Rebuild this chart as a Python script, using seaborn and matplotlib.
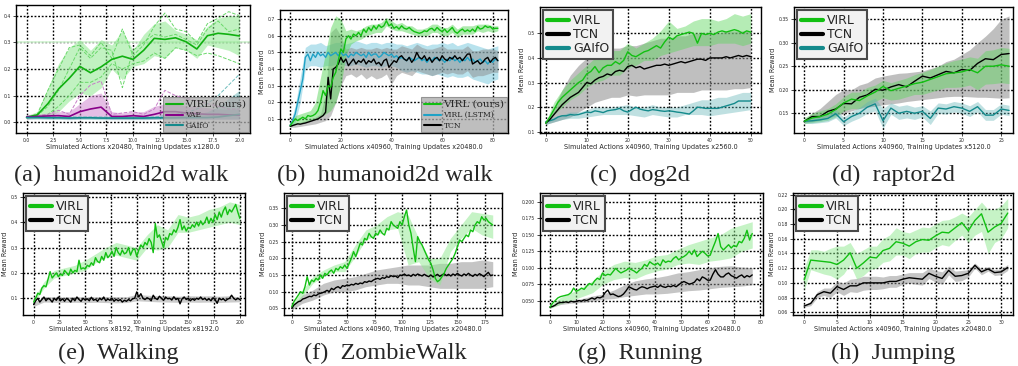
import numpy as np
import matplotlib
matplotlib.use("Agg")
import matplotlib.pyplot as plt
import seaborn as sns

# ---------------- data ----------------
# (a) humanoid2d walk
a_virl = [0.019, 0.028, 0.07, 0.125, 0.165, 0.21, 0.186, 0.208, 0.236, 0.248, 0.236, 0.27, 0.315, 0.311, 0.317, 0.302, 0.275, 0.325, 0.334, 0.33, 0.324]
a_virl_hi = [0.025, 0.04, 0.13, 0.22, 0.28, 0.31, 0.27, 0.31, 0.29, 0.345, 0.27, 0.33, 0.37, 0.38, 0.345, 0.33, 0.31, 0.36, 0.39, 0.40, 0.40]
a_virl_lo = [0.014, 0.015, 0.02, 0.04, 0.08, 0.11, 0.10, 0.13, 0.20, 0.16, 0.21, 0.22, 0.25, 0.24, 0.28, 0.27, 0.24, 0.29, 0.28, 0.27, 0.25]
a_virl_s1 = [0.02, 0.03, 0.12, 0.2, 0.28, 0.29, 0.25, 0.30, 0.24, 0.35, 0.25, 0.29, 0.36, 0.41, 0.35, 0.34, 0.30, 0.37, 0.39, 0.415, 0.40]
a_virl_s2 = [0.02, 0.025, 0.06, 0.12, 0.2, 0.28, 0.24, 0.28, 0.27, 0.13, 0.27, 0.3, 0.33, 0.32, 0.33, 0.31, 0.29, 0.35, 0.38, 0.34, 0.35]
a_virl_s3 = [0.017, 0.02, 0.03, 0.06, 0.1, 0.15, 0.15, 0.17, 0.22, 0.2, 0.22, 0.23, 0.26, 0.24, 0.28, 0.27, 0.25, 0.26, 0.25, 0.235, 0.22]
a_vae = [0.02, 0.022, 0.024, 0.025, 0.022, 0.04, 0.05, 0.057, 0.022, 0.022, 0.025, 0.022, 0.03, 0.04, 0.04, 0.035, 0.032, 0.03, 0.03, 0.028, 0.027]
a_vae_hi = [0.03, 0.03, 0.035, 0.04, 0.04, 0.07, 0.1, 0.11, 0.04, 0.035, 0.04, 0.04, 0.06, 0.07, 0.07, 0.06, 0.06, 0.055, 0.05, 0.05, 0.05]
a_vae_lo = [0.012, 0.015, 0.015, 0.015, 0.012, 0.015, 0.015, 0.015, 0.012, 0.012, 0.012, 0.012, 0.012, 0.015, 0.015, 0.012, 0.012, 0.012, 0.012, 0.012, 0.012]
a_vae_s1 = [0.02, 0.025, 0.03, 0.045, 0.03, 0.1, 0.14, 0.155, 0.03, 0.035, 0.04, 0.03, 0.05, 0.12, 0.1, 0.09, 0.08, 0.07, 0.06, 0.05, 0.05]
a_gaifo = [0.018, 0.018, 0.017, 0.017, 0.016, 0.017, 0.017, 0.016, 0.016, 0.016, 0.016, 0.016, 0.017, 0.017, 0.017, 0.018, 0.018, 0.018, 0.02, 0.025, 0.03]
a_gaifo_hi = [0.024, 0.024, 0.023, 0.023, 0.022, 0.023, 0.023, 0.022, 0.022, 0.022, 0.022, 0.022, 0.023, 0.024, 0.025, 0.027, 0.03, 0.04, 0.06, 0.09, 0.12]
a_gaifo_lo = [0.012, 0.012, 0.011, 0.011, 0.01, 0.011, 0.011, 0.01, 0.01, 0.01, 0.01, 0.01, 0.011, 0.011, 0.011, 0.012, 0.012, 0.012, 0.012, 0.012, 0.012]
a_gaifo_s1 = [0.02, 0.02, 0.02, 0.02, 0.02, 0.02, 0.02, 0.02, 0.02, 0.02, 0.02, 0.02, 0.02, 0.025, 0.03, 0.035, 0.05, 0.07, 0.1, 0.14, 0.18]

# (b) humanoid2d walk (LSTM comparison)
b_virl = [0.06, 0.08, 0.1, 0.09, 0.1, 0.11, 0.1, 0.12, 0.115, 0.12, 0.13, 0.15, 0.2, 0.27, 0.24, 0.3, 0.29, 0.35, 0.38, 0.45,
          0.52, 0.5, 0.58, 0.6, 0.58, 0.61, 0.6, 0.62, 0.6, 0.64, 0.62, 0.65, 0.63, 0.66, 0.64, 0.665, 0.65, 0.66, 0.69, 0.66,
          0.67, 0.645, 0.655, 0.64, 0.66, 0.645, 0.64, 0.65, 0.635, 0.625, 0.62, 0.615, 0.62, 0.63, 0.625, 0.64, 0.645, 0.63, 0.65, 0.635,
          0.625, 0.64, 0.62, 0.635, 0.65, 0.625, 0.615, 0.63, 0.64, 0.625, 0.635, 0.625, 0.64, 0.625, 0.655, 0.64, 0.645, 0.66, 0.65, 0.655,
          0.64, 0.645, 0.645]
b_virl_hi = [0.07, 0.12, 0.13, 0.14, 0.15, 0.2, 0.35, 0.5, 0.65, 0.72, 0.7, 0.63, 0.64, 0.63, 0.64, 0.66, 0.67, 0.67, 0.68, 0.71, 0.69,
             0.67, 0.68, 0.66, 0.66, 0.64, 0.64, 0.65, 0.67, 0.67, 0.65, 0.65, 0.67, 0.64, 0.66, 0.66, 0.66, 0.67, 0.67, 0.67, 0.66, 0.66]
b_virl_lo = [0.05, 0.07, 0.075, 0.08, 0.09, 0.1, 0.11, 0.13, 0.15, 0.2, 0.3, 0.48, 0.55, 0.57, 0.58, 0.6, 0.61, 0.62, 0.62, 0.66, 0.64,
             0.63, 0.63, 0.62, 0.61, 0.6, 0.6, 0.6, 0.62, 0.62, 0.6, 0.6, 0.62, 0.59, 0.61, 0.61, 0.61, 0.63, 0.62, 0.63, 0.62, 0.63]
b_lstm = [0.06, 0.09, 0.13, 0.2, 0.27, 0.34, 0.47, 0.49, 0.45, 0.49, 0.47, 0.5, 0.48, 0.49, 0.47, 0.5, 0.48, 0.49, 0.5, 0.48,
          0.5, 0.48, 0.49, 0.47, 0.49, 0.48, 0.5, 0.49, 0.48, 0.49, 0.47, 0.5, 0.48, 0.49, 0.49, 0.47, 0.48, 0.5, 0.49, 0.48,
          0.49, 0.47, 0.48, 0.46, 0.47, 0.46, 0.45, 0.47, 0.46, 0.45, 0.46, 0.47, 0.45, 0.46, 0.44, 0.46, 0.45, 0.47, 0.46, 0.45,
          0.46, 0.44, 0.46, 0.45, 0.47, 0.45, 0.46, 0.44, 0.46, 0.45, 0.47, 0.45, 0.46, 0.44, 0.45, 0.46, 0.44, 0.45, 0.43, 0.45,
          0.44, 0.46, 0.45]
b_lstm_hi = [0.07, 0.18, 0.35, 0.53, 0.55, 0.55, 0.56, 0.54, 0.55, 0.56, 0.56, 0.55, 0.56, 0.57, 0.56, 0.55, 0.56, 0.56, 0.55, 0.56, 0.56,
             0.55, 0.55, 0.54, 0.55, 0.56, 0.55, 0.54, 0.55, 0.55, 0.56, 0.55, 0.56, 0.54, 0.55, 0.56, 0.55, 0.54, 0.53, 0.52, 0.53, 0.54]
b_lstm_lo = [0.05, 0.08, 0.2, 0.4, 0.42, 0.42, 0.41, 0.42, 0.42, 0.43, 0.43, 0.42, 0.42, 0.43, 0.42, 0.41, 0.42, 0.42, 0.41, 0.42, 0.42,
             0.41, 0.39, 0.38, 0.39, 0.38, 0.37, 0.37, 0.36, 0.37, 0.36, 0.35, 0.36, 0.35, 0.35, 0.36, 0.34, 0.33, 0.32, 0.31, 0.33, 0.34]
b_tcn = [0.055, 0.06, 0.065, 0.07, 0.068, 0.072, 0.075, 0.08, 0.085, 0.09, 0.095, 0.1, 0.11, 0.12, 0.14, 0.35, 0.22, 0.4, 0.41, 0.43,
         0.47, 0.44, 0.46, 0.42, 0.44, 0.46, 0.43, 0.45, 0.44, 0.46, 0.43, 0.45, 0.44, 0.46, 0.43, 0.44, 0.42, 0.45, 0.46, 0.41,
         0.43, 0.45, 0.44, 0.47, 0.48, 0.46, 0.45, 0.47, 0.44, 0.46, 0.5, 0.47, 0.46, 0.48, 0.45, 0.47, 0.44, 0.46, 0.47, 0.45,
         0.48, 0.46, 0.45, 0.47, 0.46, 0.48, 0.46, 0.47, 0.45, 0.47, 0.49, 0.49, 0.43, 0.44, 0.45, 0.43, 0.44, 0.46, 0.47, 0.44,
         0.46, 0.47, 0.45]
b_tcn_hi = [0.06, 0.075, 0.08, 0.09, 0.1, 0.11, 0.13, 0.25, 0.62, 0.65, 0.6, 0.52, 0.53, 0.52, 0.53, 0.52, 0.52, 0.53, 0.52, 0.53, 0.52,
            0.52, 0.54, 0.53, 0.52, 0.55, 0.53, 0.52, 0.52, 0.53, 0.54, 0.52, 0.52, 0.52, 0.52, 0.54, 0.51, 0.51, 0.52, 0.52, 0.52, 0.51]
b_tcn_lo = [0.05, 0.05, 0.055, 0.06, 0.065, 0.07, 0.08, 0.09, 0.12, 0.2, 0.3, 0.36, 0.37, 0.35, 0.37, 0.34, 0.36, 0.34, 0.35, 0.37, 0.31,
            0.36, 0.38, 0.37, 0.36, 0.39, 0.38, 0.37, 0.36, 0.37, 0.38, 0.37, 0.38, 0.37, 0.37, 0.39, 0.35, 0.36, 0.36, 0.37, 0.38, 0.38]

# (c) dog2d
c_virl = [0.135, 0.16, 0.19, 0.22, 0.24, 0.255, 0.27, 0.285, 0.3, 0.31, 0.335, 0.345, 0.365, 0.34, 0.36, 0.37, 0.37, 0.385, 0.375, 0.39,
          0.425, 0.41, 0.405, 0.415, 0.425, 0.43, 0.44, 0.45, 0.44, 0.465, 0.485, 0.475, 0.49, 0.495, 0.5, 0.505, 0.5, 0.46, 0.5, 0.495,
          0.5, 0.495, 0.505, 0.51, 0.505, 0.51, 0.515, 0.51, 0.5, 0.51, 0.505]
c_virl_hi = [0.14, 0.22, 0.27, 0.31, 0.34, 0.37, 0.40, 0.41, 0.43, 0.43, 0.46, 0.44, 0.46, 0.48, 0.51, 0.55, 0.52, 0.53, 0.55, 0.56, 0.56, 0.55, 0.56, 0.58, 0.57, 0.58]
c_virl_lo = [0.13, 0.17, 0.2, 0.23, 0.25, 0.28, 0.3, 0.31, 0.33, 0.33, 0.36, 0.37, 0.39, 0.39, 0.41, 0.42, 0.43, 0.44, 0.45, 0.45, 0.45, 0.46, 0.46, 0.46, 0.45, 0.46]
c_tcn = [0.135, 0.15, 0.17, 0.19, 0.21, 0.225, 0.24, 0.25, 0.26, 0.28, 0.3, 0.295, 0.31, 0.32, 0.325, 0.335, 0.33, 0.345, 0.35, 0.345,
         0.365, 0.37, 0.36, 0.365, 0.355, 0.36, 0.365, 0.37, 0.37, 0.375, 0.37, 0.375, 0.38, 0.385, 0.38, 0.385, 0.39, 0.395, 0.395, 0.39,
         0.4, 0.4, 0.4, 0.4, 0.405, 0.4, 0.405, 0.41, 0.405, 0.41, 0.405]
c_tcn_hi = [0.14, 0.2, 0.27, 0.33, 0.37, 0.4, 0.42, 0.43, 0.44, 0.44, 0.45, 0.45, 0.46, 0.47, 0.48, 0.48, 0.49, 0.49, 0.5, 0.5, 0.5, 0.5, 0.51, 0.51, 0.51, 0.51]
c_tcn_lo = [0.13, 0.14, 0.15, 0.16, 0.18, 0.2, 0.22, 0.23, 0.24, 0.24, 0.25, 0.245, 0.25, 0.25, 0.25, 0.25, 0.26, 0.26, 0.26, 0.27, 0.27, 0.27, 0.27, 0.275, 0.275, 0.28]
c_gaifo = [0.14, 0.145, 0.15, 0.16, 0.165, 0.165, 0.17, 0.168, 0.17, 0.175, 0.18, 0.178, 0.185, 0.182, 0.178, 0.185, 0.188, 0.19, 0.195, 0.185,
           0.18, 0.19, 0.2, 0.192, 0.188, 0.185, 0.19, 0.188, 0.185, 0.183, 0.185, 0.183, 0.18, 0.178, 0.175, 0.172, 0.185, 0.2, 0.198, 0.195,
           0.195, 0.195, 0.195, 0.2, 0.205, 0.21, 0.215, 0.225, 0.225, 0.225, 0.225]
c_gaifo_hi = [0.15, 0.16, 0.17, 0.18, 0.18, 0.19, 0.2, 0.2, 0.2, 0.205, 0.21, 0.2, 0.2, 0.21, 0.2, 0.2, 0.2, 0.21, 0.22, 0.23, 0.23, 0.24, 0.24, 0.25, 0.26, 0.26]
c_gaifo_lo = [0.13, 0.14, 0.15, 0.155, 0.155, 0.16, 0.165, 0.17, 0.17, 0.17, 0.17, 0.165, 0.16, 0.17, 0.165, 0.16, 0.16, 0.17, 0.17, 0.17, 0.165, 0.17, 0.175, 0.18, 0.185, 0.19]

# (d) raptor2d
d_virl = [0.133, 0.14, 0.143, 0.148, 0.158, 0.172, 0.18, 0.177, 0.187, 0.195, 0.207, 0.198, 0.203, 0.208, 0.213, 0.216, 0.222, 0.228, 0.234, 0.236, 0.238, 0.243, 0.236, 0.25, 0.25, 0.253, 0.25]
d_virl_hi = [0.14, 0.15, 0.155, 0.16, 0.17, 0.185, 0.195, 0.195, 0.205, 0.21, 0.22, 0.215, 0.22, 0.225, 0.232, 0.237, 0.243, 0.25, 0.257, 0.262, 0.265, 0.27, 0.267, 0.283, 0.285, 0.29, 0.288]
d_virl_lo = [0.128, 0.13, 0.132, 0.135, 0.142, 0.155, 0.16, 0.16, 0.167, 0.175, 0.183, 0.178, 0.18, 0.185, 0.19, 0.19, 0.195, 0.2, 0.205, 0.205, 0.206, 0.21, 0.2, 0.212, 0.213, 0.215, 0.213]
d_tcn = [0.133, 0.143, 0.143, 0.154, 0.159, 0.171, 0.17, 0.184, 0.189, 0.201, 0.199, 0.206, 0.211, 0.206, 0.218, 0.229, 0.225, 0.232, 0.239, 0.236, 0.243, 0.241, 0.256, 0.266, 0.264, 0.275, 0.277]
d_tcn_hi = [0.136, 0.15, 0.16, 0.175, 0.19, 0.2, 0.2, 0.21, 0.215, 0.225, 0.229, 0.232, 0.235, 0.236, 0.238, 0.24, 0.245, 0.25, 0.26, 0.265, 0.275, 0.285, 0.3, 0.314, 0.33, 0.35, 0.357]
d_tcn_lo = [0.13, 0.132, 0.135, 0.14, 0.145, 0.15, 0.155, 0.16, 0.163, 0.165, 0.168, 0.17, 0.172, 0.175, 0.177, 0.179, 0.181, 0.183, 0.185, 0.186, 0.186, 0.185, 0.184, 0.184, 0.183, 0.182, 0.183]
d_gaifo = [0.133, 0.134, 0.136, 0.139, 0.149, 0.132, 0.143, 0.15, 0.163, 0.17, 0.134, 0.161, 0.15, 0.154, 0.15, 0.154, 0.139, 0.161, 0.159, 0.164, 0.161, 0.154, 0.164, 0.146, 0.146, 0.159, 0.156]
d_gaifo_hi = [0.137, 0.14, 0.143, 0.148, 0.158, 0.142, 0.153, 0.162, 0.175, 0.182, 0.16, 0.172, 0.165, 0.168, 0.163, 0.166, 0.155, 0.172, 0.17, 0.175, 0.172, 0.166, 0.175, 0.158, 0.158, 0.17, 0.167]
d_gaifo_lo = [0.129, 0.128, 0.13, 0.132, 0.14, 0.124, 0.133, 0.14, 0.15, 0.155, 0.118, 0.148, 0.137, 0.14, 0.137, 0.142, 0.126, 0.15, 0.148, 0.153, 0.15, 0.143, 0.153, 0.135, 0.135, 0.148, 0.145]

# (e) Walking (sampled every 2 updates, 0..200)
e_virl = [0.085, 0.1, 0.12, 0.115, 0.14, 0.15, 0.145, 0.175, 0.205, 0.18, 0.19, 0.2, 0.185, 0.195, 0.19, 0.21, 0.2, 0.19, 0.215, 0.2,
          0.21, 0.205, 0.25, 0.215, 0.22, 0.215, 0.23, 0.225, 0.24, 0.23, 0.26, 0.245, 0.24, 0.265, 0.25, 0.28, 0.26, 0.27, 0.285, 0.265,
          0.3, 0.28, 0.27, 0.29, 0.275, 0.28, 0.3, 0.27, 0.29, 0.295, 0.265, 0.29, 0.31, 0.3, 0.32, 0.31, 0.335, 0.32, 0.28, 0.395,
          0.34, 0.35, 0.325, 0.3, 0.34, 0.33, 0.355, 0.35, 0.37, 0.36, 0.38, 0.41, 0.37, 0.385, 0.365, 0.38, 0.375, 0.39, 0.38, 0.4,
          0.385, 0.405, 0.39, 0.4, 0.42, 0.395, 0.415, 0.4, 0.43, 0.41, 0.44, 0.42, 0.445, 0.46, 0.43, 0.45, 0.44, 0.455, 0.47, 0.44,
          0.415]
e_virl_hi = [0.1, 0.165, 0.21, 0.22, 0.23, 0.25, 0.275, 0.3, 0.32, 0.31, 0.3, 0.35, 0.39, 0.37, 0.43, 0.42, 0.43, 0.45, 0.46, 0.48, 0.47]
e_virl_lo = [0.08, 0.14, 0.18, 0.19, 0.2, 0.21, 0.24, 0.26, 0.27, 0.26, 0.25, 0.3, 0.29, 0.3, 0.36, 0.36, 0.37, 0.38, 0.39, 0.4, 0.39]
e_tcn = [0.075, 0.09, 0.1, 0.085, 0.095, 0.105, 0.09, 0.1, 0.095, 0.085, 0.1, 0.092, 0.105, 0.09, 0.098, 0.088, 0.1, 0.094, 0.085, 0.1,
         0.09, 0.105, 0.095, 0.088, 0.1, 0.093, 0.098, 0.09, 0.104, 0.092, 0.096, 0.088, 0.1, 0.094, 0.105, 0.09, 0.097, 0.092, 0.1, 0.088,
         0.096, 0.09, 0.095, 0.085, 0.092, 0.088, 0.095, 0.09, 0.098, 0.1, 0.125, 0.105, 0.118, 0.1, 0.095, 0.102, 0.098, 0.09, 0.112, 0.1,
         0.095, 0.108, 0.1, 0.092, 0.105, 0.098, 0.1, 0.093, 0.106, 0.095, 0.1, 0.078, 0.098, 0.105, 0.095, 0.1, 0.09, 0.098, 0.092, 0.1,
         0.096, 0.105, 0.095, 0.1, 0.092, 0.098, 0.09, 0.102, 0.095, 0.08, 0.1, 0.094, 0.098, 0.09, 0.096, 0.1, 0.112, 0.1, 0.094, 0.1,
         0.095]
e_tcn_hi = [0.085, 0.105, 0.106, 0.105, 0.106, 0.105, 0.106, 0.107, 0.106, 0.106, 0.115, 0.112, 0.11, 0.11, 0.108, 0.11, 0.109, 0.11, 0.108, 0.11, 0.105]
e_tcn_lo = [0.068, 0.085, 0.084, 0.083, 0.084, 0.083, 0.084, 0.083, 0.082, 0.083, 0.09, 0.088, 0.086, 0.085, 0.084, 0.085, 0.084, 0.085, 0.083, 0.085, 0.086]

# (f) ZombieWalk (every 2 updates, 0..182)
f_virl = [0.055, 0.07, 0.08, 0.09, 0.1, 0.095, 0.115, 0.145, 0.12, 0.135, 0.13, 0.14, 0.135, 0.15, 0.14, 0.155, 0.15, 0.16, 0.165, 0.155,
          0.17, 0.165, 0.175, 0.17, 0.18, 0.17, 0.185, 0.2, 0.22, 0.205, 0.225, 0.245, 0.24, 0.26, 0.255, 0.275, 0.265, 0.26, 0.275, 0.27,
          0.285, 0.275, 0.27, 0.29, 0.285, 0.31, 0.3, 0.295, 0.29, 0.31, 0.3, 0.325, 0.345, 0.3, 0.275, 0.23, 0.19, 0.265, 0.25, 0.24,
          0.225, 0.21, 0.195, 0.185, 0.165, 0.14, 0.13, 0.135, 0.145, 0.155, 0.17, 0.18, 0.19, 0.2, 0.215, 0.235, 0.255, 0.25, 0.26, 0.27,
          0.265, 0.285, 0.28, 0.3, 0.31, 0.305, 0.325, 0.315, 0.32, 0.31, 0.305, 0.3]
f_virl_hi = [0.06, 0.105, 0.145, 0.165, 0.18, 0.19, 0.24, 0.285, 0.3, 0.325, 0.34, 0.33, 0.26, 0.2, 0.2, 0.26, 0.3, 0.34, 0.335, 0.33]
f_virl_lo = [0.05, 0.085, 0.125, 0.145, 0.16, 0.16, 0.205, 0.255, 0.27, 0.285, 0.29, 0.18, 0.19, 0.14, 0.12, 0.22, 0.26, 0.29, 0.27, 0.26]
f_tcn = [0.05, 0.06, 0.065, 0.07, 0.072, 0.078, 0.08, 0.083, 0.086, 0.085, 0.09, 0.088, 0.093, 0.095, 0.097, 0.1, 0.104, 0.1, 0.11, 0.106,
         0.112, 0.115, 0.11, 0.118, 0.116, 0.12, 0.118, 0.122, 0.12, 0.125, 0.122, 0.126, 0.124, 0.13, 0.128, 0.132, 0.13, 0.135, 0.138, 0.14,
         0.137, 0.142, 0.14, 0.145, 0.143, 0.148, 0.145, 0.147, 0.142, 0.15, 0.148, 0.153, 0.148, 0.15, 0.146, 0.152, 0.148, 0.153, 0.15, 0.147,
         0.152, 0.148, 0.145, 0.15, 0.144, 0.148, 0.152, 0.146, 0.15, 0.154, 0.148, 0.152, 0.147, 0.153, 0.149, 0.155, 0.15, 0.147, 0.153, 0.149,
         0.155, 0.15, 0.146, 0.152, 0.148, 0.154, 0.15, 0.145, 0.152, 0.158, 0.148, 0.15]
f_tcn_hi = [0.055, 0.09, 0.105, 0.125, 0.135, 0.14, 0.145, 0.155, 0.165, 0.17, 0.175, 0.18, 0.18, 0.18, 0.185, 0.185, 0.19, 0.19, 0.195, 0.19]
f_tcn_lo = [0.045, 0.065, 0.075, 0.09, 0.1, 0.1, 0.105, 0.115, 0.12, 0.125, 0.125, 0.12, 0.12, 0.115, 0.11, 0.11, 0.11, 0.11, 0.11, 0.115]

# (g) Running
g_virl = [0.04, 0.046, 0.05, 0.054, 0.056, 0.057, 0.058, 0.059, 0.062, 0.069, 0.064, 0.066, 0.069, 0.067, 0.072, 0.076, 0.074, 0.08, 0.084, 0.082,
          0.092, 0.088, 0.09, 0.089, 0.094, 0.099, 0.095, 0.092, 0.094, 0.096, 0.099, 0.097, 0.095, 0.092, 0.096, 0.099, 0.105, 0.102, 0.109, 0.106,
          0.104, 0.107, 0.103, 0.112, 0.108, 0.11, 0.109, 0.114, 0.117, 0.112, 0.115, 0.117, 0.12, 0.125, 0.12, 0.127, 0.117, 0.121, 0.125, 0.122,
          0.118, 0.119, 0.13, 0.14, 0.152, 0.132, 0.127, 0.131, 0.135, 0.13, 0.134, 0.132, 0.14, 0.138, 0.145, 0.157, 0.142, 0.152]
g_virl_hi = [0.042, 0.055, 0.062, 0.07, 0.08, 0.095, 0.105, 0.11, 0.108, 0.112, 0.118, 0.12, 0.128, 0.135, 0.14, 0.145, 0.15, 0.16, 0.165, 0.17]
g_virl_lo = [0.038, 0.045, 0.05, 0.056, 0.062, 0.075, 0.082, 0.085, 0.083, 0.09, 0.095, 0.098, 0.105, 0.107, 0.105, 0.11, 0.112, 0.115, 0.125, 0.13]
g_tcn = [0.04, 0.041, 0.043, 0.046, 0.047, 0.047, 0.048, 0.047, 0.049, 0.048, 0.0485, 0.05, 0.049, 0.051, 0.05, 0.052, 0.054, 0.052, 0.055, 0.054,
         0.056, 0.062, 0.066, 0.059, 0.06, 0.058, 0.056, 0.057, 0.06, 0.065, 0.071, 0.069, 0.067, 0.066, 0.069, 0.071, 0.07, 0.068, 0.07, 0.071,
         0.072, 0.07, 0.073, 0.071, 0.07, 0.072, 0.071, 0.073, 0.071, 0.074, 0.077, 0.079, 0.077, 0.075, 0.076, 0.078, 0.083, 0.08, 0.086, 0.084,
         0.081, 0.081, 0.09, 0.097, 0.09, 0.086, 0.086, 0.09, 0.092, 0.088, 0.086, 0.084, 0.087, 0.089, 0.085, 0.088, 0.086, 0.089]
g_tcn_hi = [0.041, 0.048, 0.05, 0.053, 0.057, 0.06, 0.066, 0.074, 0.08, 0.083, 0.085, 0.088, 0.092, 0.094, 0.097, 0.1, 0.102, 0.103, 0.101, 0.1]
g_tcn_lo = [0.039, 0.044, 0.046, 0.047, 0.049, 0.052, 0.053, 0.056, 0.058, 0.06, 0.06, 0.061, 0.063, 0.065, 0.066, 0.068, 0.07, 0.071, 0.072, 0.074]

# (h) Jumping
h_virl = [0.104, 0.131, 0.13, 0.129, 0.128, 0.125, 0.131, 0.141, 0.12, 0.127, 0.135, 0.134, 0.144, 0.147, 0.156, 0.154, 0.15, 0.156, 0.159, 0.158,
          0.164, 0.169, 0.168, 0.175, 0.182, 0.171, 0.185, 0.194, 0.169, 0.176, 0.181, 0.195]
h_virl_hi = [0.12, 0.145, 0.145, 0.143, 0.147, 0.15, 0.15, 0.155, 0.14, 0.145, 0.15, 0.15, 0.16, 0.165, 0.175, 0.17, 0.168, 0.172, 0.176, 0.175,
             0.18, 0.185, 0.186, 0.19, 0.195, 0.19, 0.2, 0.21, 0.2, 0.2, 0.205, 0.215]
h_virl_lo = [0.09, 0.118, 0.115, 0.112, 0.11, 0.105, 0.112, 0.125, 0.105, 0.11, 0.118, 0.12, 0.128, 0.13, 0.138, 0.138, 0.133, 0.14, 0.142, 0.142,
             0.148, 0.152, 0.15, 0.158, 0.165, 0.155, 0.165, 0.17, 0.14, 0.155, 0.16, 0.175]
h_tcn = [0.0686, 0.072, 0.084, 0.088, 0.086, 0.095, 0.091, 0.096, 0.096, 0.1, 0.1, 0.1, 0.1, 0.102, 0.102, 0.105, 0.107, 0.106, 0.105, 0.113,
         0.109, 0.106, 0.117, 0.109, 0.11, 0.113, 0.124, 0.115, 0.119, 0.114, 0.115, 0.121]
h_tcn_hi = [0.07, 0.075, 0.088, 0.093, 0.093, 0.102, 0.1, 0.105, 0.106, 0.109, 0.109, 0.109, 0.108, 0.11, 0.11, 0.112, 0.114, 0.114, 0.114, 0.12,
            0.117, 0.115, 0.123, 0.116, 0.117, 0.118, 0.127, 0.119, 0.122, 0.118, 0.119, 0.125]
h_tcn_lo = [0.067, 0.069, 0.08, 0.083, 0.08, 0.088, 0.083, 0.088, 0.087, 0.09, 0.091, 0.091, 0.092, 0.094, 0.094, 0.098, 0.1, 0.098, 0.097, 0.106,
            0.101, 0.098, 0.111, 0.102, 0.103, 0.108, 0.12, 0.111, 0.116, 0.11, 0.111, 0.117]

captions = ["(a)  humanoid2d walk", "(b)  humanoid2d walk", "(c)  dog2d", "(d)  raptor2d",
            "(e)  Walking", "(f)  ZombieWalk", "(g)  Running", "(h)  Jumping"]
xlabels = ["Simulated Actions x20480, Training Updates x1280.0",
           "Simulated Actions x40960, Training Updates x20480.0",
           "Simulated Actions x40960, Training Updates x2560.0",
           "Simulated Actions x40960, Training Updates x5120.0",
           "Simulated Actions x8192, Training Updates x8192.0",
           "Simulated Actions x40960, Training Updates x20480.0",
           "Simulated Actions x40960, Training Updates x20480.0",
           "Simulated Actions x40960, Training Updates x20480.0"]

# ---------------- style ----------------
GREEN = "#12c012"
GREEN_BAND = "#5cd65c"
GREY_BAND = "#8c8c8c"
TEAL = "#148a8c"
TEAL_BAND = "#5fb3b5"
LSTM = "#1fa2c6"
LSTM_BAND = "#72c6dc"
PURPLE = "#880088"
PURPLE_BAND = "#d08ad0"

sns.set_style("white")
plt.rcParams["font.family"] = ["DejaVu Sans"]

fig = plt.figure(figsize=(10.18, 3.66), dpi=100)


def add_ax(l, t, r, b):
    return fig.add_axes([l / 1018, 1 - b / 366, (r - l) / 1018, (b - t) / 366])


def line(ax, x, y, color, lw=1.0, ls="-", z=3):
    sns.lineplot(x=np.asarray(x, float), y=np.asarray(y, float), ax=ax, color=color,
                 linewidth=lw, linestyle=ls, zorder=z, estimator=None, sort=False)
    return ax.lines[-1]


def band(ax, xmax, lo, hi, color, alpha, z=1):
    x = np.linspace(0, xmax, len(lo))
    ax.fill_between(x, lo, hi, color=color, alpha=alpha, lw=0, zorder=z)


def style(ax, xlim, ylim, xt, xtl, yt, ytl, xlabel, ylabel=True):
    ax.set_xlim(xlim)
    ax.set_ylim(ylim)
    ax.set_xticks(xt)
    ax.set_xticklabels(xtl, fontsize=3.3)
    ax.set_yticks(yt)
    ax.set_yticklabels(ytl, fontsize=3.3)
    ax.tick_params(bottom=True, left=True, length=2, width=0.6, pad=1.5, direction="out")
    ax.grid(True, color="black", linestyle=(0, (1.3, 1.3)), linewidth=1.0)
    ax.set_axisbelow(True)
    for s in ax.spines.values():
        s.set_color("black")
        s.set_linewidth(1.0)
    ax.set_xlabel(xlabel, fontsize=4.7, labelpad=1)
    if ylabel:
        ax.set_ylabel("Mean Reward", fontsize=4.7, labelpad=2)
    else:
        ax.set_ylabel("")


def box_legend(ax, handles, labels):
    leg = ax.legend(handles, labels, loc="upper left", fontsize=9, handlelength=1.8,
                    handletextpad=0.3, labelspacing=0.1, borderpad=0.3, borderaxespad=0.25,
                    frameon=True, fancybox=False, edgecolor="#4a4a4a", facecolor="#f2f2f2", framealpha=1)
    leg.get_frame().set_linewidth(1.5)
    for lh in leg.get_lines():
        lh.set_linewidth(3)
    leg.set_zorder(10)


def grey_legend(ax, handles, labels):
    leg = ax.legend(handles, labels, loc="lower right", handlelength=2.2,
                    handletextpad=0.4, labelspacing=0.3, borderpad=0.35, borderaxespad=0.1,
                    frameon=True, fancybox=False, edgecolor="#7a7a7a", facecolor="#a9a9a9",
                    framealpha=0.75, prop={"family": "DejaVu Serif", "size": 5.5})
    leg.get_frame().set_linewidth(0.8)
    leg.get_texts()[0].set_fontsize(7.5)
    for lh in leg.get_lines():
        lh.set_linewidth(1.5)
    leg.set_zorder(10)


# ---- (a)
ax = add_ax(16, 5, 250, 133)
xa = np.arange(len(a_virl))
ax.axhline(0.3, color="#d3f5d3", lw=1.2, zorder=0.8)
band(ax, xa[-1], a_virl_lo, a_virl_hi, "#8ee88e", 0.55)
band(ax, xa[-1], a_vae_lo, a_vae_hi, PURPLE_BAND, 0.55)
band(ax, xa[-1], a_gaifo_lo, a_gaifo_hi, TEAL_BAND, 0.45)
for s in (a_virl_s1, a_virl_s2, a_virl_s3):
    line(ax, xa, s, "#6ad86a", lw=0.7, ls="--", z=2)
line(ax, xa, a_vae_s1, "#c77cc7", lw=0.7, ls="--", z=2)
line(ax, xa, a_gaifo_s1, "#6cbcbc", lw=0.7, ls="--", z=2)
h1 = line(ax, xa, a_virl, "#10b010", lw=1.2)
h2 = line(ax, xa, a_vae, PURPLE, lw=1.2)
h3 = line(ax, xa, a_gaifo, TEAL, lw=1.2)
style(ax, (-1, 21), (-0.04, 0.44), np.arange(0, 20.1, 2.5),
      ["0.0", "2.5", "5.0", "7.5", "10.0", "12.5", "15.0", "17.5", "20.0"],
      [0.0, 0.1, 0.2, 0.3, 0.4], ["0.0", "0.1", "0.2", "0.3", "0.4"], xlabels[0], ylabel=False)
grey_legend(ax, [h1, h2, h3], ["VIRL (ours)", "VAE", "GAIfO"])

# ---- (b)
ax = add_ax(280, 10, 508, 133)
xb = np.arange(len(b_virl))
band(ax, 82, b_lstm_lo, b_lstm_hi, LSTM_BAND, 0.5)
band(ax, 82, b_tcn_lo, b_tcn_hi, GREY_BAND, 0.5)
band(ax, 82, b_virl_lo, b_virl_hi, GREEN_BAND, 0.5)
h2 = line(ax, np.arange(len(b_lstm)), b_lstm, LSTM)
h3 = line(ax, np.arange(len(b_tcn)), b_tcn, "black")
h1 = line(ax, xb, b_virl, GREEN)
style(ax, (-4, 86), (0.015, 0.755), [0, 20, 40, 60, 80], ["0", "20", "40", "60", "80"],
      [0.1, 0.2, 0.3, 0.4, 0.5, 0.6, 0.7], ["0.1", "0.2", "0.3", "0.4", "0.5", "0.6", "0.7"], xlabels[1])
grey_legend(ax, [h1, h2, h3], ["VIRL (ours)", "VIRL (LSTM)", "TCN"])

# ---- (c)
ax = add_ax(540, 7, 761, 133)
band(ax, 50, c_tcn_lo, c_tcn_hi, GREY_BAND, 0.55)
band(ax, 50, c_virl_lo, c_virl_hi, GREEN_BAND, 0.45)
band(ax, 50, c_gaifo_lo, c_gaifo_hi, TEAL_BAND, 0.4)
h3 = line(ax, np.arange(len(c_gaifo)), c_gaifo, TEAL)
h2 = line(ax, np.arange(len(c_tcn)), c_tcn, "black")
h1 = line(ax, np.arange(len(c_virl)), c_virl, GREEN)
style(ax, (-1.4, 52.5), (0.095, 0.607), [0, 10, 20, 30, 40, 50], ["0", "10", "20", "30", "40", "50"],
      [0.1, 0.2, 0.3, 0.4, 0.5], ["0.1", "0.2", "0.3", "0.4", "0.5"], xlabels[2])
box_legend(ax, [h1, h2, h3], ["VIRL", "TCN", "GAIfO"])

# ---- (d)
ax = add_ax(794, 7, 1013, 133)
band(ax, 26, d_tcn_lo, d_tcn_hi, GREY_BAND, 0.55)
band(ax, 26, d_virl_lo, d_virl_hi, GREEN_BAND, 0.45)
band(ax, 26, d_gaifo_lo, d_gaifo_hi, TEAL_BAND, 0.4)
h3 = line(ax, np.arange(len(d_gaifo)), d_gaifo, TEAL)
h2 = line(ax, np.arange(len(d_tcn)), d_tcn, "black")
h1 = line(ax, np.arange(len(d_virl)), d_virl, GREEN)
style(ax, (-1.3, 26.5), (0.108, 0.376), [0, 5, 10, 15, 20, 25], ["0", "5", "10", "15", "20", "25"],
      [0.15, 0.2, 0.25, 0.3, 0.35], ["0.15", "0.20", "0.25", "0.30", "0.35"], xlabels[3])
box_legend(ax, [h1, h2, h3], ["VIRL", "TCN", "GAIfO"])

# ---- (e)
ax = add_ax(23, 193, 245, 315)
band(ax, 200, e_tcn_lo, e_tcn_hi, GREY_BAND, 0.45)
band(ax, 200, e_virl_lo, e_virl_hi, "#8ee88e", 0.5)
h2 = line(ax, np.linspace(0, 200, len(e_tcn)), e_tcn, "black")
h1 = line(ax, np.linspace(0, 200, len(e_virl)), e_virl, GREEN)
style(ax, (-10.3, 205), (0.034, 0.515), np.arange(0, 201, 25), [str(v) for v in range(0, 201, 25)],
      [0.1, 0.2, 0.3, 0.4, 0.5], ["0.1", "0.2", "0.3", "0.4", "0.5"], xlabels[4])
box_legend(ax, [h1, h2], ["VIRL", "TCN"])

# ---- (f)
ax = add_ax(284, 193, 502, 315)
band(ax, 182, f_tcn_lo, f_tcn_hi, GREY_BAND, 0.5)
band(ax, 182, f_virl_lo, f_virl_hi, "#8ee88e", 0.5)
h2 = line(ax, np.linspace(0, 182, len(f_tcn)), f_tcn, "black")
h1 = line(ax, np.linspace(0, 182, len(f_virl)), f_virl, GREEN)
style(ax, (-7, 190.4), (0.03, 0.396), np.arange(0, 176, 25), [str(v) for v in range(0, 176, 25)],
      [0.05, 0.1, 0.15, 0.2, 0.25, 0.3, 0.35], ["0.05", "0.10", "0.15", "0.20", "0.25", "0.30", "0.35"], xlabels[5])
box_legend(ax, [h1, h2], ["VIRL", "TCN"])

# ---- (g)
ax = add_ax(540, 193, 763, 315)
band(ax, 77, g_tcn_lo, g_tcn_hi, GREY_BAND, 0.5)
band(ax, 77, g_virl_lo, g_virl_hi, "#8ee88e", 0.5)
h2 = line(ax, np.arange(len(g_tcn)), g_tcn, "black")
h1 = line(ax, np.arange(len(g_virl)), g_virl, GREEN)
style(ax, (-3.8, 81.1), (0.028, 0.2137), np.arange(0, 81, 10), [str(v) for v in range(0, 81, 10)],
      [0.05, 0.075, 0.1, 0.125, 0.15, 0.175, 0.2],
      ["0.050", "0.075", "0.100", "0.125", "0.150", "0.175", "0.200"], xlabels[6])
box_legend(ax, [h1, h2], ["VIRL", "TCN"])

# ---- (h)
ax = add_ax(793, 193, 1013, 315)
band(ax, 31, h_tcn_lo, h_tcn_hi, GREY_BAND, 0.5)
band(ax, 31, h_virl_lo, h_virl_hi, "#8ee88e", 0.5)
h2 = line(ax, np.arange(len(h_tcn)), h_tcn, "black")
h1 = line(ax, np.arange(len(h_virl)), h_virl, GREEN)
style(ax, (-1.7, 31.8), (0.0563, 0.2223), [0, 5, 10, 15, 20, 25, 30], ["0", "5", "10", "15", "20", "25", "30"],
      [0.06, 0.08, 0.1, 0.12, 0.14, 0.16, 0.18, 0.2, 0.22],
      ["0.06", "0.08", "0.10", "0.12", "0.14", "0.16", "0.18", "0.20", "0.22"], xlabels[7])
box_legend(ax, [h1, h2], ["VIRL", "TCN"])

# ---- captions
cap_pos = [(121, 175), (385, 175), (640, 175), (893, 175),
           (118, 353), (385, 353), (640, 353), (893, 353)]
for (cx, cy), txt in zip(cap_pos, captions):
    fig.text(cx / 1018, 1 - cy / 366, txt, ha="center", va="center",
             fontsize=17.5, family="Liberation Serif")

fig.savefig("out.png", dpi=100)
